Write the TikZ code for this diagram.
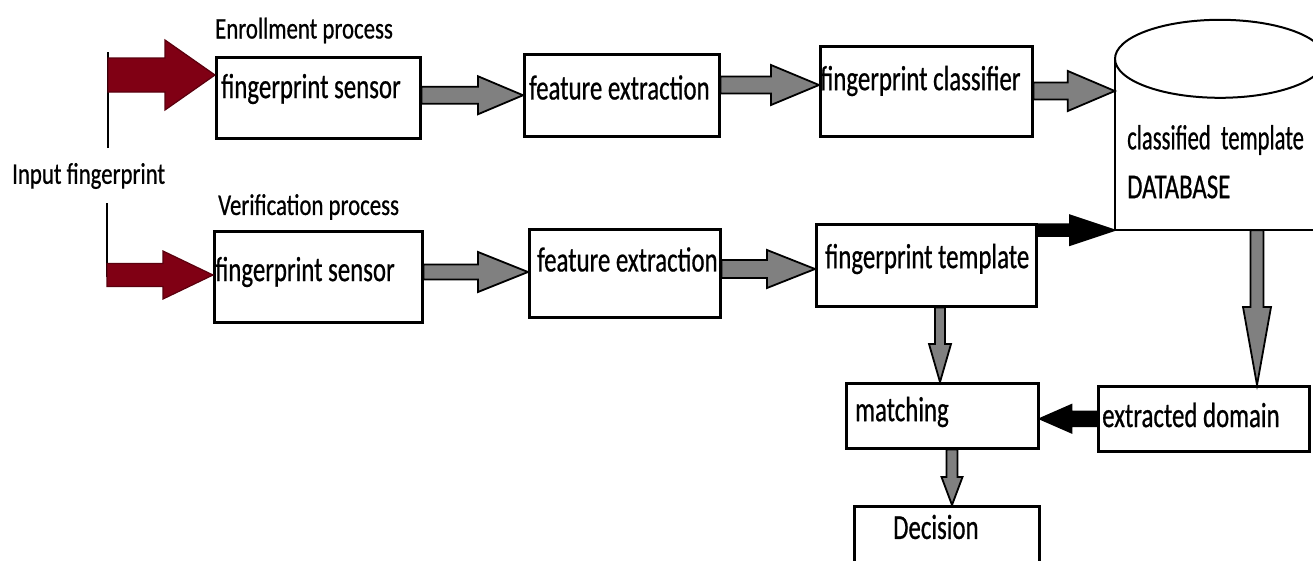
\documentclass[tikz,border=0pt]{standalone}
\usepackage{fontspec}
\setmainfont{Carlito}
\newfontfamily\boxfont{Carlito}[FakeStretch=0.71, FakeBold=0.6]
\newfontfamily\lblfont{Carlito}[FakeStretch=0.76, FakeBold=0.6]
\usetikzlibrary{calc}
\definecolor{darkred}{RGB}{128,0,20}
\definecolor{arrgray}{RGB}{128,128,128}
% style, start, target, body half width, head half width, head length
\newcommand\blkarrow[6]{%
  \coordinate (bkh) at ($(#3)!#6!(#2)$);
  \filldraw[#1] ($(#2)!#4!90:(#3)$) -- ($(bkh)!#4!90:(#3)$) -- ($(bkh)!#5!90:(#3)$)
    -- (#3) -- ($(bkh)!#5!-90:(#3)$) -- ($(bkh)!#4!-90:(#3)$) -- ($(#2)!#4!-90:(#3)$) -- cycle;}
\tikzset{
  box/.style={draw, line width=2.5pt, fill=white, inner sep=0pt, anchor=north west},
  boxtxt/.style={inner sep=0pt, anchor=west, font=\boxfont\fontsize{35}{40}\selectfont},
  lbl/.style={inner sep=0pt, anchor=west, font=\lblfont\fontsize{30}{34}\selectfont},
  grayarr/.style={fill=arrgray, draw=black, line width=1.8pt, line join=miter},
  blackarr/.style={fill=black, draw=black, line width=1.5pt},
  redarr/.style={fill=darkred, draw=darkred!70!black, line width=1.2pt},
  vline/.style={draw=black, line width=2.6pt},
  dbline/.style={draw=black, line width=2pt}
}
\begin{document}
\begin{tikzpicture}[x=1pt,y=-1pt]
\useasboundingbox (0,0) rectangle (1313,560);
\clip (0,0) rectangle (1313,560);
\fill[white] (0,0) rectangle (1313,560);

% labels
\node[lbl] (enr) at (215,30.5) {Enrollment process};
\node[lbl] (ver) at (218,207) {Verification process};
\node[lbl] (inp) at (12,176) {Input fingerprint};

% boxes
\node[box, minimum width=204pt, minimum height=81pt] (s1) at (215,56) {};
\node[box, minimum width=195pt, minimum height=82pt] (f1) at (523,53) {};
\node[box, minimum width=212pt, minimum height=90pt] (c) at (819,45) {};
\node[box, minimum width=208pt, minimum height=91pt] (s2) at (213,230) {};
\node[box, minimum width=191pt, minimum height=88pt] (f2) at (528,228) {};
\node[box, minimum width=220pt, minimum height=82pt] (t) at (815,223) {};
\node[box, minimum width=192pt, minimum height=65pt] (m) at (845,382) {};
\node[box, minimum width=211pt, minimum height=65pt] (ed) at (1097,385) {};
\node[box, minimum width=185pt, minimum height=90pt] (d) at (853,505) {};

% box texts
\node[boxtxt] (s1t) at (221,89) {fingerprint sensor};
\node[boxtxt] (f1t) at (529,87.5) {feature extraction};
\node[boxtxt] (ct) at (820,81) {fingerprint classifier};
\node[boxtxt] (s2t) at (215,272) {fingerprint sensor};
\node[boxtxt] (f2t) at (537,259.5) {feature extraction};
\node[boxtxt] (tt) at (825,259) {fingerprint template};
\node[boxtxt] (mt) at (855,412) {matching};
\node[boxtxt] (edt) at (1102,415) {extracted domain};
\node[boxtxt] (dt) at (893,527) {Decision};

% database cylinder
\node[inner sep=0pt, minimum width=210pt, minimum height=171pt] (db) at (1220,144.5) {};
\draw[dbline] (db.north west) -- (db.south west) -- (db.south east) -- (db.north east);
\draw[dbline] (db.north) ellipse [x radius=105pt, y radius=39pt];
\node[boxtxt] (dbt) at (1127,140) {\scalebox{0.91}[1]{classified\ \ template}};
\node[boxtxt] (dbt2) at (1127,187) {DATABASE};

% input lines
\coordinate (v1a) at (108,148);
\coordinate (v1b) at (108,52);
\coordinate (v2a) at (107,203);
\coordinate (v2b) at (107,277);
\draw[vline] (v1a) -- (v1b);
\draw[vline, line width=2pt] (v2a) -- (v2b);
\coordinate (br1) at (108,75);
\coordinate (br2) at (107,275);

% helper coordinates
\coordinate (y4) at (0,85);
\coordinate (y5) at (0,91);
\coordinate (y6) at (0,272);
\coordinate (y7) at (0,269);
\coordinate (x9) at (940,0);
\coordinate (x10) at (1257,0);
\coordinate (x12) at (952,0);

% arrows
\blkarrow{redarr}{br1}{s1.west |- br1}{17pt}{35pt}{50pt}
\blkarrow{redarr}{br2}{s2.west |- br2}{11.5pt}{24pt}{50pt}
\blkarrow{grayarr}{s1.east |- f1.west}{f1.west}{8.5pt}{19pt}{45pt}
\blkarrow{grayarr}{f1.east |- y4}{c.west |- y4}{8.5pt}{20pt}{48pt}
\blkarrow{grayarr}{c.east |- y5}{db.west |- y5}{8.5pt}{20pt}{47pt}
\blkarrow{grayarr}{s2.east |- y6}{f2.west |- y6}{7.5pt}{20pt}{50pt}
\blkarrow{grayarr}{f2.east |- y7}{t.west |- y7}{9pt}{19pt}{48pt}
\blkarrow{blackarr}{t.east |- db.south west}{db.south west}{6pt}{15pt}{45pt}
\blkarrow{grayarr}{t.south -| x9}{m.north -| x9}{5pt}{11pt}{38pt}
\blkarrow{grayarr}{db.south -| x10}{ed.north -| x10}{6.5pt}{14pt}{78pt}
\blkarrow{blackarr}{ed.west}{m.east |- ed.west}{7.5pt}{14pt}{32pt}
\blkarrow{grayarr}{m.south -| x12}{d.north -| x12}{5.5pt}{10.5pt}{28pt}
\end{tikzpicture}
\end{document}
